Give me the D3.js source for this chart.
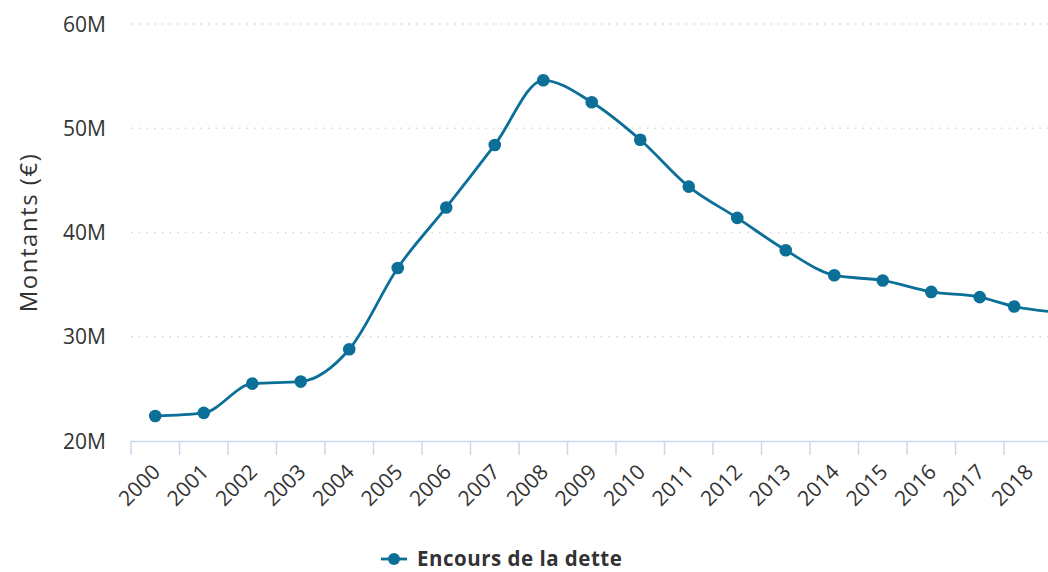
<!DOCTYPE html>
<html>
<head>
<meta charset="utf-8">
<script src="https://cdn.jsdelivr.net/npm/d3@7"></script>
<style>
  html, body { margin: 0; padding: 0; background: #fff; overflow: hidden; }
  svg { display: block; font-family: "Open Sans", sans-serif; }
</style>
</head>
<body>
<svg width="1048" height="572"></svg>
<script>
// tick labels along the x axis
var years = ["2000", "2001", "2002", "2003", "2004", "2005", "2006", "2007", "2008", "2009",
  "2010", "2011", "2012", "2013", "2014", "2015", "2016", "2017", "2018"];
// position of each point on the year axis (last ones are not on a year center)
var periods = [2000, 2001, 2002, 2003, 2004, 2005, 2006, 2007, 2008, 2009,
  2010, 2011, 2012, 2013, 2014, 2015, 2016, 2017, 2017.71, 2018.71];
// outstanding debt, millions of euros
var encours = [22.4, 22.7, 25.5, 25.7, 28.8, 36.6, 42.4, 48.4, 54.6, 52.5,
  48.9, 44.4, 41.4, 38.3, 35.9, 35.4, 34.3, 33.8, 32.9, 32.3];
var yTicks = [20, 30, 40, 50, 60];
var seriesName = "Encours de la dette";

var svg = d3.select("svg"),
  plotLeft = 131, plotRight = 1052.5, plotTop = 24, plotBottom = 441,
  color = "#0b6f98",
  textColor = "#333333";

var x = d3.scaleLinear()
  .domain([1999.5, 2018.5])
  .range([plotLeft, plotRight]);

var y = d3.scaleLinear()
  .domain([20, 60])
  .range([plotBottom, plotTop]);

var data = periods.map(function (p, i) { return { p: p, v: encours[i] }; });

// grid lines
svg.append("g").selectAll("line")
  .data(yTicks.filter(function (d) { return d > 20; }))
  .enter().append("line")
  .attr("x1", plotLeft).attr("x2", plotRight)
  .attr("y1", function (d) { return y(d); })
  .attr("y2", function (d) { return y(d); })
  .attr("stroke", "#d6d6d6")
  .attr("stroke-width", 1.5)
  .attr("stroke-dasharray", "1.5,6.2");

// y labels
svg.append("g").selectAll("text")
  .data(yTicks)
  .enter().append("text")
  .attr("x", 106)
  .attr("y", function (d) { return y(d); })
  .attr("dy", "0.36em")
  .attr("text-anchor", "end")
  .attr("fill", textColor)
  .style("font-size", "21px")
  .text(function (d) { return d + "M"; });

// y title
svg.append("text")
  .attr("transform", "translate(37," + ((plotTop + plotBottom) / 2) + ") rotate(-90)")
  .attr("text-anchor", "middle")
  .attr("fill", textColor)
  .style("font-size", "24px")
  .style("letter-spacing", "1.5px")
  .text("Montants (€)");

// x axis line + ticks
var xAxis = svg.append("g");
xAxis.append("line")
  .attr("x1", plotLeft).attr("x2", plotRight)
  .attr("y1", plotBottom + 0.5).attr("y2", plotBottom + 0.5)
  .attr("stroke", "#ccd6eb").attr("stroke-width", 1.5);

var bounds = d3.range(years.length + 1).map(function (i) { return 1999.5 + i; });
xAxis.selectAll(".tick")
  .data(bounds)
  .enter().append("line")
  .attr("class", "tick")
  .attr("x1", function (d) { return x(d); })
  .attr("x2", function (d) { return x(d); })
  .attr("y1", plotBottom).attr("y2", plotBottom + 14)
  .attr("stroke", "#ccd6eb").attr("stroke-width", 1.5);

xAxis.selectAll("text")
  .data(years)
  .enter().append("text")
  .attr("transform", function (d) { return "translate(" + (x(+d) + 1) + "," + (plotBottom + 27) + ") rotate(-45)"; })
  .attr("text-anchor", "end")
  .attr("dy", "0.35em")
  .attr("fill", textColor)
  .style("font-size", "21px")
  .text(function (d) { return d; });

// series
var line = d3.line()
  .x(function (d) { return x(d.p); })
  .y(function (d) { return y(d.v); })
  .curve(d3.curveMonotoneX);

svg.append("path")
  .datum(data)
  .attr("d", line)
  .attr("fill", "none")
  .attr("stroke", color)
  .attr("stroke-width", 2.8)
  .attr("stroke-linejoin", "round");

svg.append("g").selectAll("circle")
  .data(data)
  .enter().append("circle")
  .attr("cx", function (d) { return x(d.p); })
  .attr("cy", function (d) { return y(d.v); })
  .attr("r", 6.3)
  .attr("fill", color);

// legend
var legend = svg.append("g").attr("transform", "translate(381,559)");
legend.append("line")
  .attr("x1", 0).attr("x2", 26)
  .attr("stroke", color).attr("stroke-width", 2.8);
legend.append("circle")
  .attr("cx", 13).attr("r", 6).attr("fill", color);
legend.append("text")
  .attr("x", 36)
  .attr("dy", "0.36em")
  .attr("fill", textColor)
  .style("font-size", "20.5px")
  .style("font-weight", "bold")
  .style("letter-spacing", "0.5px")
  .text(seriesName);
</script>
</body>
</html>
